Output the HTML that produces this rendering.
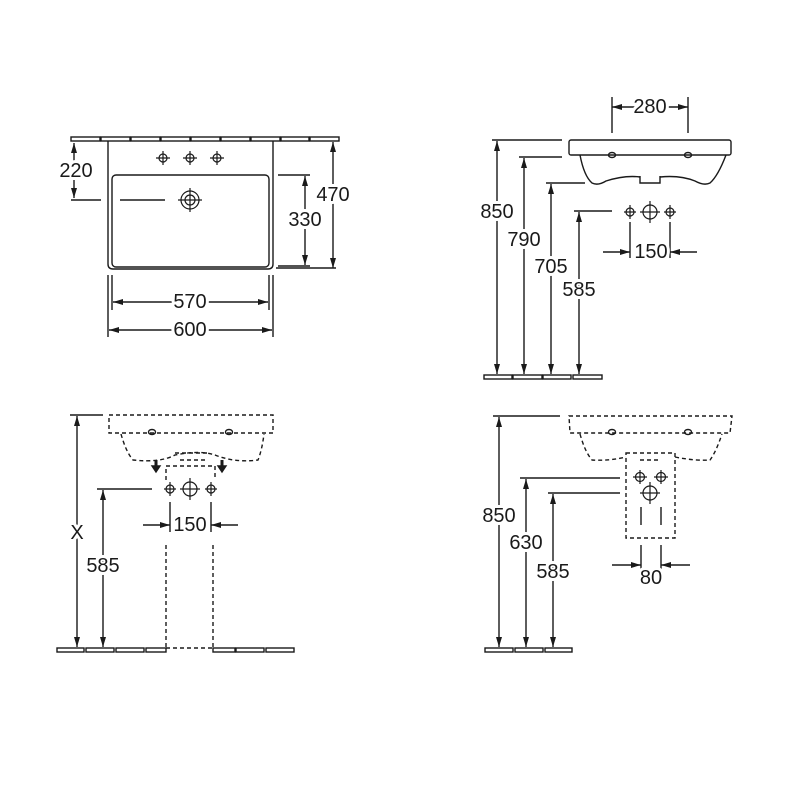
<!DOCTYPE html>
<html><head><meta charset="utf-8"><style>
html,body{margin:0;padding:0;background:#fff}
svg{display:block}
text{font-family:"Liberation Sans",Arial,sans-serif;font-size:20px;fill:#1a1a1a;text-anchor:middle;dominant-baseline:central;paint-order:stroke;stroke:#fff;stroke-width:6px;stroke-linejoin:round}
</style></head><body>
<svg width="800" height="800" viewBox="0 0 800 800" xmlns="http://www.w3.org/2000/svg">
<defs>
<marker id="a" viewBox="0 0 10 6" refX="10" refY="3" markerWidth="11" markerHeight="6" markerUnits="userSpaceOnUse" orient="auto-start-reverse"><path d="M0,0L10,3L0,6z" fill="#1a1a1a"/></marker>
</defs>
<g fill="none" stroke="#1a1a1a" stroke-width="1.4">

<!-- ===== Q1 top view ===== -->
<g fill="#fff">
<rect x="71" y="137" width="29" height="4"/><rect x="101" y="137" width="29" height="4"/><rect x="131" y="137" width="29" height="4"/><rect x="161" y="137" width="29" height="4"/><rect x="191" y="137" width="29" height="4"/><rect x="221" y="137" width="29" height="4"/><rect x="251" y="137" width="29" height="4"/><rect x="281" y="137" width="28" height="4"/><rect x="310" y="137" width="29" height="4"/>
</g>
<path d="M108,141V264q0,5 5,5H268q5,0 5,-5V141"/>
<rect x="112" y="175" width="157" height="92" rx="4"/>
<g stroke-width="1.2">
<circle cx="163" cy="158" r="4"/><path d="M156,158h14M163,151v14"/>
<circle cx="190" cy="158" r="4"/><path d="M183,158h14M190,151v14"/>
<circle cx="217" cy="158" r="4"/><path d="M210,158h14M217,151v14"/>
<circle cx="190" cy="200" r="9"/><circle cx="190" cy="200" r="5"/><path d="M178,200h24M190,188v24"/>
</g>
<path d="M71,200h30M120,200h45"/>
<path d="M74,143V198" marker-start="url(#a)" marker-end="url(#a)"/>
<path d="M333,142V268" marker-start="url(#a)" marker-end="url(#a)"/>
<path d="M276,268h60"/>
<path d="M278,175h32M278,266h32"/>
<path d="M305,176V265" marker-start="url(#a)" marker-end="url(#a)"/>
<path d="M112,275V310M269,275V310M108,275V337M273,275V337"/>
<path d="M113,302H268" marker-start="url(#a)" marker-end="url(#a)"/>
<path d="M109,330H272" marker-start="url(#a)" marker-end="url(#a)"/>

<!-- ===== Q2 side view ===== -->
<path d="M612,97V133M688,97V133"/>
<path d="M612,107H688" marker-start="url(#a)" marker-end="url(#a)"/>
<rect x="569" y="140" width="162" height="15" rx="2"/>
<path d="M580,155Q584,176 592,183Q598,186 606,181Q625,175 640,177M660,177Q680,175 695,181Q704,186 710,183Q718,176 726,155"/>
<path d="M640,176v7h20v-7"/>
<ellipse cx="612" cy="155" rx="3.5" ry="2.5"/><ellipse cx="688" cy="155" rx="3.5" ry="2.5"/>
<path d="M492,140h70M519,157h43M546,183h39M574,211h38"/>
<path d="M497,141V374" marker-start="url(#a)" marker-end="url(#a)"/>
<path d="M524,158V374" marker-start="url(#a)" marker-end="url(#a)"/>
<path d="M551,184V374" marker-start="url(#a)" marker-end="url(#a)"/>
<path d="M579,212V374" marker-start="url(#a)" marker-end="url(#a)"/>
<rect x="484" y="375" width="28" height="4"/><rect x="513" y="375" width="29" height="4"/><rect x="543" y="375" width="28" height="4"/><rect x="573" y="375" width="29" height="4"/>
<g stroke-width="1.2">
<circle cx="630" cy="212" r="4"/><path d="M624,212h12M630,205v14"/>
<circle cx="650" cy="212" r="7"/><path d="M640,212h20M650,201v22"/>
<circle cx="670" cy="212" r="4"/><path d="M664,212h12M670,205v14"/>
</g>
<path d="M630,222V258M670,222V258"/>
<path d="M603,252H630" marker-end="url(#a)"/><path d="M697,252H670" marker-end="url(#a)"/>

<!-- ===== Q3 pedestal ===== -->
<g stroke-dasharray="4,3">
<path d="M109,415H273V433H109Z"/>
<path d="M121,434Q126,452 133,460Q160,463 175,455Q200,450 215,455Q235,463 258,460Q262,450 264,434"/>
<path d="M175,453h35M180,460h25"/>
<path d="M166,480V466H215V480"/>
<path d="M166,545V648M213,545V648M166,648H213"/>
</g>
<ellipse cx="152" cy="432" rx="3.5" ry="2.5"/><ellipse cx="229" cy="432" rx="3.5" ry="2.5"/>
<path d="M156,460v7" stroke-width="3"/><path d="M152,466h8l-4,6z" fill="#1a1a1a"/>
<path d="M222,460v7" stroke-width="3"/><path d="M218,466h8l-4,6z" fill="#1a1a1a"/>
<g stroke-width="1.2">
<circle cx="170" cy="489" r="4"/><path d="M164,489h12M170,482v14"/>
<circle cx="190" cy="489" r="7"/><path d="M180,489h20M190,478v22"/>
<circle cx="211" cy="489" r="4"/><path d="M205,489h12M211,482v14"/>
</g>
<path d="M170,502V532M211,502V532"/>
<path d="M143,525H170" marker-end="url(#a)"/><path d="M238,525H211" marker-end="url(#a)"/>
<path d="M70,415h33M97,489h55"/>
<path d="M77,416V647" marker-start="url(#a)" marker-end="url(#a)"/>
<path d="M103,490V647" marker-start="url(#a)" marker-end="url(#a)"/>
<g fill="#fff">
<rect x="57" y="648" width="27" height="4"/><rect x="86" y="648" width="28" height="4"/><rect x="116" y="648" width="28" height="4"/><rect x="146" y="648" width="20" height="4"/><rect x="213" y="648" width="22" height="4"/><rect x="236" y="648" width="28" height="4"/><rect x="266" y="648" width="28" height="4"/>
</g>

<!-- ===== Q4 siphon ===== -->
<g stroke-dasharray="4,3">
<path d="M569,416H732L730,433H570Z"/>
<path d="M580,434Q585,452 592,460Q610,461 626,457M675,457Q695,461 710,460Q716,452 722,434"/>
<path d="M626,453H675V538H626Z"/>
<path d="M640,460h20"/>
</g>
<ellipse cx="612" cy="432" rx="3.5" ry="2.5"/><ellipse cx="688" cy="432" rx="3.5" ry="2.5"/>
<g stroke-width="1.2">
<circle cx="640" cy="477" r="4.5"/><path d="M633,477h14M640,470v14"/>
<circle cx="661" cy="477" r="4.5"/><path d="M654,477h14M661,470v14"/>
<circle cx="650" cy="493" r="7"/><path d="M640,493h20M650,482v22"/>
</g>
<path d="M641,507V525M661,507V525M641,545V570M661,545V570"/>
<path d="M612,565H641" marker-end="url(#a)"/><path d="M690,565H661" marker-end="url(#a)"/>
<path d="M493,416h67M520,478h100M548,493h72"/>
<path d="M499,417V647" marker-start="url(#a)" marker-end="url(#a)"/>
<path d="M526,479V647" marker-start="url(#a)" marker-end="url(#a)"/>
<path d="M553,494V647" marker-start="url(#a)" marker-end="url(#a)"/>
<rect x="485" y="648" width="28" height="4"/><rect x="515" y="648" width="28" height="4"/><rect x="545" y="648" width="27" height="4"/>
</g>

<!-- texts -->
<text x="76" y="171">220</text>
<text x="333" y="195">470</text>
<text x="305" y="220">330</text>
<text x="190" y="302">570</text>
<text x="190" y="330">600</text>
<text x="650" y="107">280</text>
<text x="497" y="212">850</text>
<text x="524" y="240">790</text>
<text x="551" y="267">705</text>
<text x="579" y="290">585</text>
<text x="651" y="252">150</text>
<text x="77" y="533">X</text>
<text x="103" y="566">585</text>
<text x="190" y="525">150</text>
<text x="499" y="516">850</text>
<text x="526" y="543">630</text>
<text x="553" y="572">585</text>
<text x="651" y="578">80</text>
</svg>
</body></html>
